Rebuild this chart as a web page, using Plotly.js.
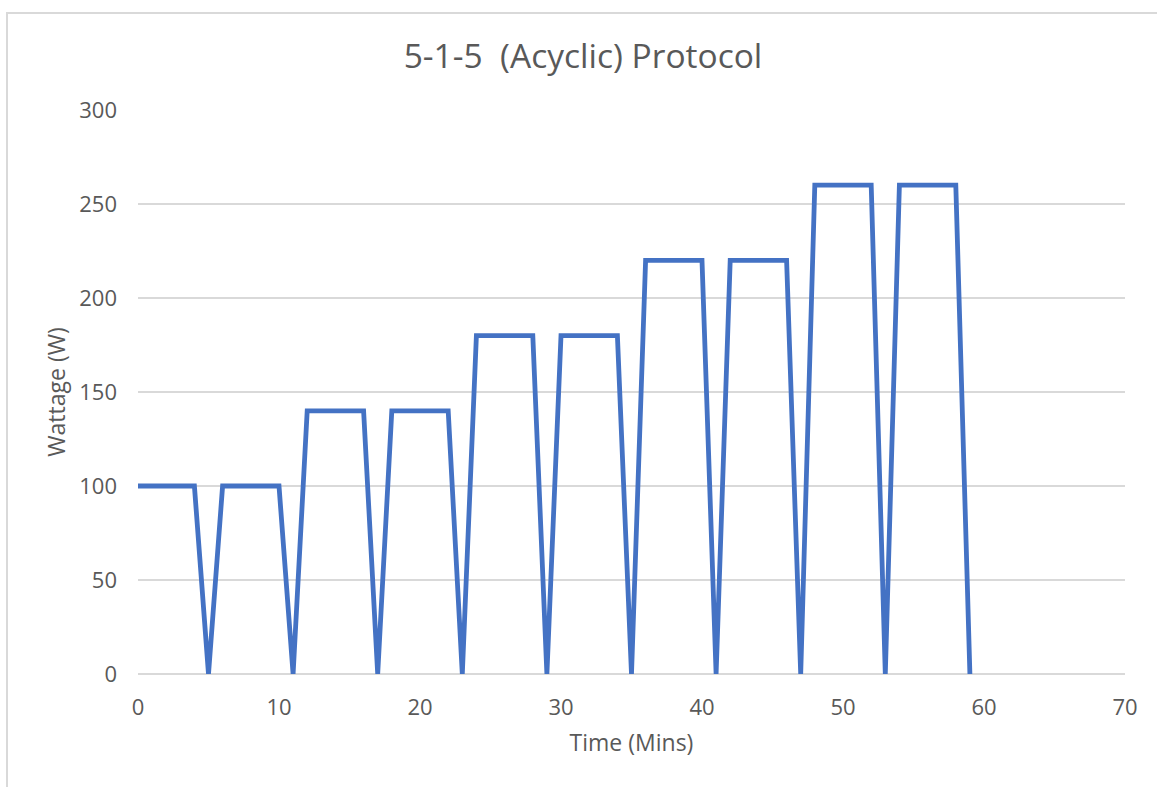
<!DOCTYPE html>
<html><head><meta charset="utf-8">
<script src="https://cdn.plot.ly/plotly-3.0.1.min.js"></script>
<style>
html,body{margin:0;padding:0;background:#fff;overflow:hidden;}
#chart{position:absolute;left:6px;top:12px;width:1150px;height:775px;border:2px solid #d9d9d9;}
</style></head>
<body><div id="chart"></div>
<script>
const timeMins = [0,4,5,6,10,11,12,16,17,18,22,23,24,28,29,30,34,35,36,40,41,42,46,47,48,52,53,54,58,59];
const wattage  = [100,100,0,100,100,0,140,140,0,140,140,0,180,180,0,180,180,0,220,220,0,220,220,0,260,260,0,260,260,0];
const xTicks = [0,10,20,30,40,50,60,70];
const yTicks = [0,50,100,150,200,250,300];

const font = '"Open Sans", sans-serif';
Plotly.newPlot('chart', [{
  x: timeMins, y: wattage, type: 'scatter', mode: 'lines',
  line: {color: '#4472C4', width: 4.8}, hoverinfo: 'none'
}], {
  width: 1150, height: 775,
  margin: {l: 130, r: 33, t: 96, b: 115},
  paper_bgcolor: '#fff', plot_bgcolor: '#fff',
  showlegend: false,
  title: {text: '5-1-5  (Acyclic) Protocol', font: {family: font, size: 33.5, color: '#595959'}, x: 0.5, xanchor: 'center', y: 0.945, yanchor: 'middle'},
  xaxis: {
    range: [0, 70], tickvals: xTicks, ticktext: xTicks.map(String),
    showgrid: false, zeroline: false, showline: false, ticks: '',
    ticklabelstandoff: 18,
    tickfont: {family: font, size: 22, color: '#595959'},
    title: {text: 'Time (Mins)', font: {family: font, size: 23, color: '#595959'}, standoff: 14}
  },
  yaxis: {
    range: [0, 300], tickvals: yTicks, ticktext: yTicks.map(String),
    showgrid: true, gridcolor: '#d9d9d9', gridwidth: 1.5,
    zeroline: true, zerolinecolor: '#d9d9d9', zerolinewidth: 1.5,
    showline: false, ticks: '', ticklabelstandoff: 20,
    tickfont: {family: font, size: 22, color: '#595959'},
    title: {text: 'Wattage (W)', font: {family: font, size: 23, color: '#595959'}, standoff: 7}
  }
}, {staticPlot: true, displayModeBar: false});
</script></body></html>
